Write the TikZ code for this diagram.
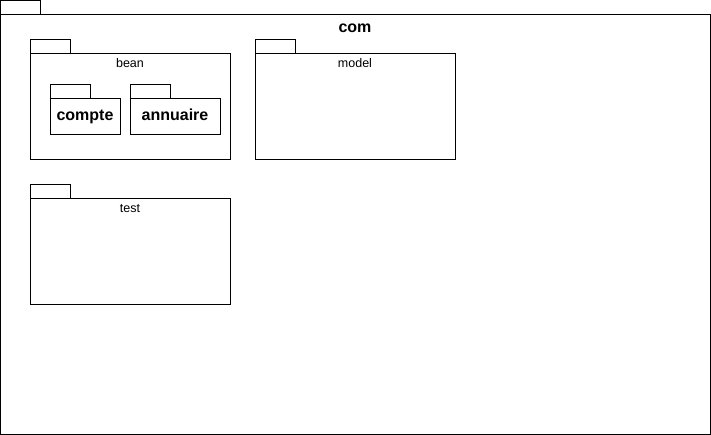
\documentclass[tikz,border=0pt]{standalone}
\usepackage{fontspec}
\setmainfont{Liberation Sans}
\usetikzlibrary{positioning}

\begin{document}
\begin{tikzpicture}[x=1pt,y=-1pt]
% style des paquets
\tikzstyle{onglet} = [rectangle, draw, line width=1pt, inner sep=0pt, anchor=north west, minimum width=40pt, minimum height=14pt]
\tikzstyle{paquet} = [rectangle, draw, line width=1pt, inner sep=0pt, anchor=north west]
\tikzstyle{nom} = [inner sep=0pt, anchor=base, font=\fontsize{12.5}{15}\selectfont]
\tikzstyle{nomgras} = [inner sep=0pt, anchor=base, font=\bfseries\fontsize{16}{19}\selectfont]

\useasboundingbox (0,0) rectangle (711,435);

%% paquet com
\node[onglet] (comTab) at (0.2,0.2) {};
\node[paquet, minimum width=709.5pt, minimum height=420pt] (com) at (0.2,14) {};
\node[nomgras] (comNom) at (355,32.5) {com};
%
%% paquet bean
\node[onglet] (beanTab) at (30,39) {};
\node[paquet, minimum width=200pt, minimum height=106pt] (bean) at (30,53) {};
\node[nom] (beanNom) at (130,68) {bean};
%
\node[onglet] (compteTab) at (50,84) {};
\node[paquet, minimum width=70pt, minimum height=36pt] (compte) at (50,98) {};
\node[nomgras] (compteNom) at (85,121) {compte};
%
\node[onglet] (annuaireTab) at (130,84) {};
\node[paquet, minimum width=90pt, minimum height=36pt] (annuaire) at (130,98) {};
\node[nomgras] (annuaireNom) at (175,121) {annuaire};
%
%% paquet model
\node[onglet] (modelTab) at (255,39) {};
\node[paquet, minimum width=200pt, minimum height=106pt] (model) at (255,53) {};
\node[nom] (modelNom) at (355,68) {model};
%
%% paquet test
\node[onglet] (testTab) at (30,184) {};
\node[paquet, minimum width=200pt, minimum height=106pt] (test) at (30,198) {};
\node[nom] (testNom) at (130,213) {test};
\end{tikzpicture}
\end{document}
